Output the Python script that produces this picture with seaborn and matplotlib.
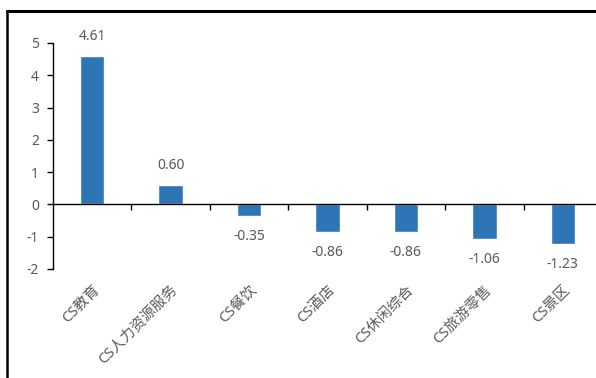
import matplotlib
matplotlib.use("Agg")
import matplotlib.pyplot as plt
from matplotlib.lines import Line2D
import seaborn as sns
import pandas as pd

categories = ["CS教育", "CS人力资源服务", "CS餐饮", "CS酒店", "CS休闲综合", "CS旅游零售", "CS景区"]
values = [4.61, 0.60, -0.35, -0.86, -0.86, -1.06, -1.23]
value_labels = ["4.61", "0.60", "-0.35", "-0.86", "-0.86", "-1.06", "-1.23"]
yticks = [-2, -1, 0, 1, 2, 3, 4, 5]

sns.set_style("white")
plt.rcParams["font.family"] = ["Noto Sans", "Noto Sans CJK SC", "DejaVu Sans"]

text_color = "#595959"
bar_color = "#2E75B6"

df = pd.DataFrame({"category": categories, "value": values})

fig = plt.figure(figsize=(5.96, 3.78), dpi=100)
ax = fig.add_axes([53 / 596, 1 - 269 / 378, (602 - 53) / 596, (269 - 43) / 378])

sns.barplot(data=df, x="category", y="value", color=bar_color, width=0.31,
            saturation=1, ax=ax)

ax.set_ylim(-2, 5)
ax.set_xlim(-0.5, len(categories) - 0.5)
ax.set_yticks(yticks)
ax.set_yticklabels([str(t) for t in yticks], color=text_color, fontsize=10)
ax.tick_params(axis="y", direction="out", length=4, width=1, color="black",
               left=True, pad=6)
ax.set_xlabel("")
ax.set_ylabel("")

# x axis line sits at zero, with tick marks between categories
for side in ["top", "right"]:
    ax.spines[side].set_visible(False)
ax.spines["left"].set_color("black")
ax.spines["left"].set_linewidth(1)
ax.spines["bottom"].set_position(("data", 0))
ax.spines["bottom"].set_color("black")
ax.spines["bottom"].set_linewidth(1)
boundaries = [i + 0.5 for i in range(len(categories) - 1)]
ax.set_xticks(boundaries)
ax.set_xticklabels([])
ax.tick_params(axis="x", direction="out", length=4, width=1, color="black",
               bottom=True)

# category names along the bottom of the plot area
sec = ax.secondary_xaxis("bottom")
sec.set_xticks(range(len(categories)))
sec.set_xticklabels(categories, rotation=45, ha="right", rotation_mode="anchor",
                    color=text_color, fontsize=10.5)
sec.tick_params(axis="x", length=0, pad=10)
sec.spines["bottom"].set_visible(False)

# value labels
for i, (v, lab) in enumerate(zip(values, value_labels)):
    if v >= 0:
        ax.annotate(lab, (i, v), xytext=(0, 8.5), textcoords="offset points",
                    ha="center", va="bottom", color=text_color, fontsize=10)
    else:
        ax.annotate(lab, (i, v), xytext=(0, -9.5), textcoords="offset points",
                    ha="center", va="top", color=text_color, fontsize=10)

# outer frame lines
fig.add_artist(Line2D([7 / 596, 1], [1 - 11 / 378, 1 - 11 / 378],
                      transform=fig.transFigure, color="black", linewidth=2.2))
fig.add_artist(Line2D([7 / 596, 7 / 596], [0, 1 - 11 / 378],
                      transform=fig.transFigure, color="black", linewidth=1.8))

fig.savefig("out.png", dpi=100)
